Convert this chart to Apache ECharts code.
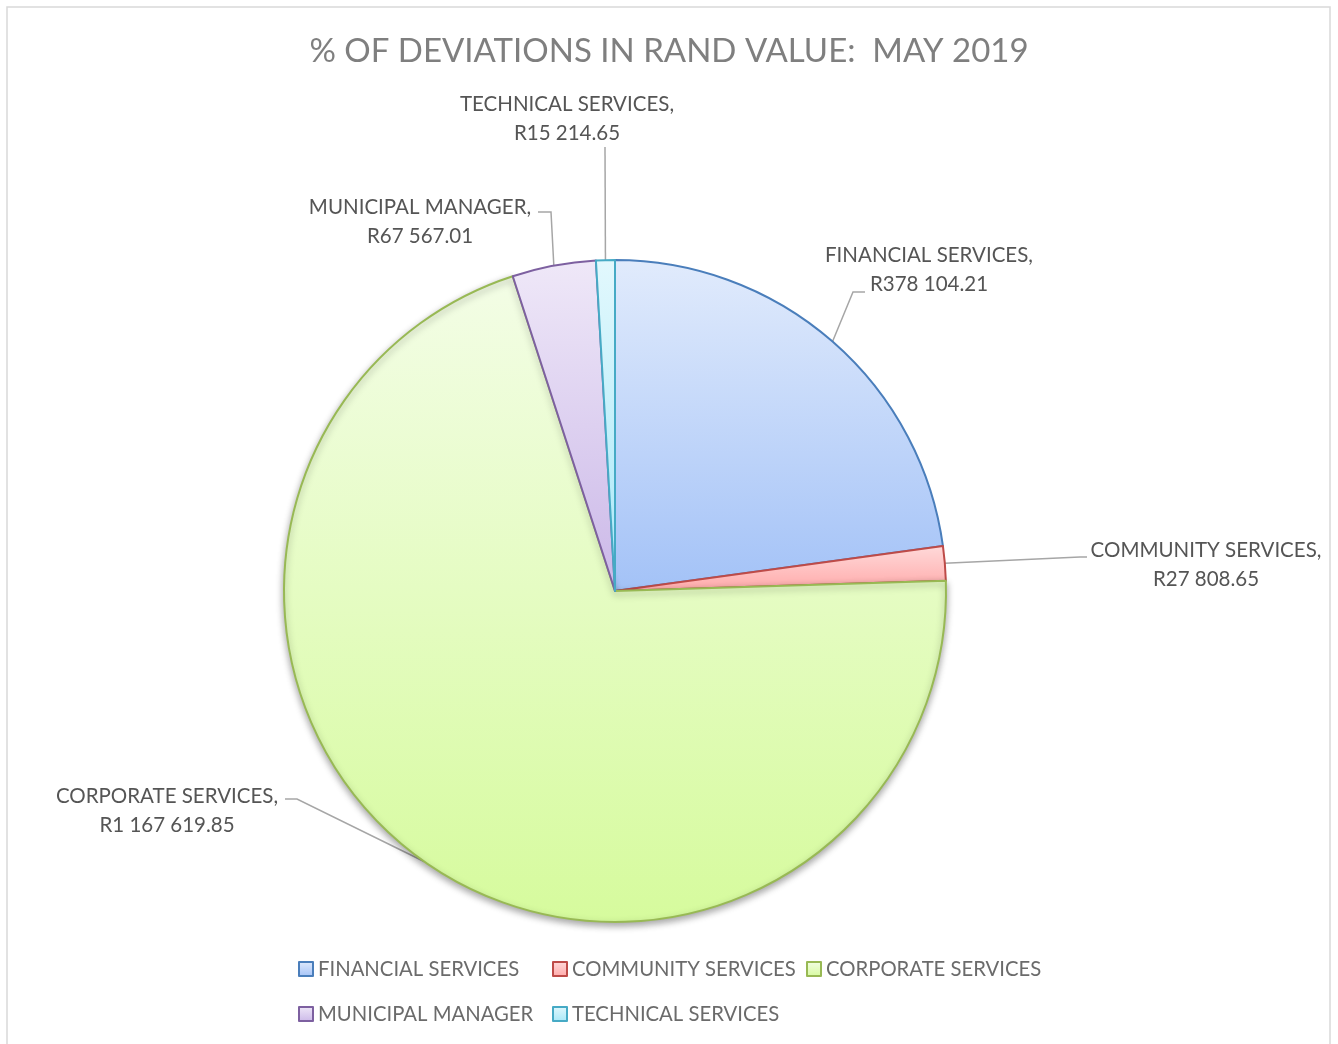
<!DOCTYPE html>
<html>
<head>
<meta charset="utf-8">
<title>% of deviations in Rand value: May 2019</title>
<script src="https://cdn.jsdelivr.net/npm/echarts@6/dist/echarts.min.js"></script>
<style>
  html, body { margin: 0; padding: 0; background: #ffffff; }
  #chart { width: 1338px; height: 1044px; }
</style>
</head>
<body>
<div id="chart"></div>
<script>
// Departments and the Rand value of their deviations
const departments = [
  'FINANCIAL SERVICES',
  'COMMUNITY SERVICES',
  'CORPORATE SERVICES',
  'MUNICIPAL MANAGER',
  'TECHNICAL SERVICES'
];
const randValues = [378104.21, 27808.65, 1167619.85, 67567.01, 15214.65];

// Slice styling: outline colour and top/bottom gradient stops
const edgeColors = ['#4a7ebb', '#be4b48', '#98b954', '#7d60a0', '#46aac5'];
const fillTop    = ['#e1ebfc', '#ffdada', '#f3fde6', '#efe8f8', '#e2f8fd'];
const fillBottom = ['#a3c2f7', '#ffa9a9', '#d6fb9d', '#cbb8e8', '#a8e8f8'];

// Where each data label sits, plus the bend/end of its leader line
const labelSpots = [
  { x: 929, y: 270, bend: [853, 292], end: [865, 292] },
  { x: 1206, y: 565, bend: [1080, 557], end: [1087, 557] },
  { x: 167, y: 811, bend: [297, 799], end: [285, 799] },
  { x: 420, y: 222, bend: [551, 212], end: [538, 212] },
  { x: 567, y: 119, bend: [605, 147], end: [605, 147] }
];

const FONT = 'Lato, "Open Sans", sans-serif';

function formatRand(v) {
  const parts = v.toFixed(2).split('.');
  const whole = parts[0].replace(/\B(?=(\d{3})+(?!\d))/g, ' ');
  return 'R' + whole + '.' + parts[1];
}

const pieData = departments.map((name, i) => {
  const item = {
    name: name,
    value: randValues[i],
    itemStyle: {
      color: new echarts.graphic.LinearGradient(0, 0, 0, 1, [
        { offset: 0, color: fillTop[i] },
        { offset: 1, color: fillBottom[i] }
      ]),
      borderColor: edgeColors[i],
      borderWidth: 2
    }
  };
  if (name === 'CORPORATE SERVICES') {
    item.itemStyle.shadowColor = 'rgba(0,0,0,0.35)';
    item.itemStyle.shadowBlur = 7;
    item.itemStyle.shadowOffsetY = 3;
  }
  return item;
});

const legendCommon = {
  orient: 'horizontal',
  left: 293,
  itemWidth: 14,
  itemHeight: 14,
  itemGap: 1,
  icon: 'rect',
  textStyle: {
    fontFamily: FONT,
    fontSize: 20.3,
    color: '#6b6b6b',
    width: 233,
    lineHeight: 24
  }
};

const chart = echarts.init(document.getElementById('chart'), null, { renderer: 'canvas' });

chart.setOption({
  backgroundColor: '#ffffff',
  animation: false,
  title: {
    text: '% OF DEVIATIONS IN RAND VALUE:  MAY 2019',
    left: 'center',
    top: 26,
    textStyle: {
      fontFamily: FONT,
      fontSize: 33,
      fontWeight: 'normal',
      color: '#7f7f7f',
      lineHeight: 40
    }
  },
  graphic: [{
    type: 'rect',
    shape: { x: 7, y: 7, width: 1323, height: 1045 },
    style: { fill: null, stroke: '#d9d9d9', lineWidth: 1.5 },
    silent: true,
    z: -1
  }],
  legend: [
    Object.assign({}, legendCommon, { top: 952, data: departments.slice(0, 3) }),
    Object.assign({}, legendCommon, { top: 997, data: departments.slice(3) })
  ],
  series: [{
    type: 'pie',
    center: [615, 591],
    radius: 331,
    startAngle: 90,
    clockwise: true,
    avoidLabelOverlap: false,
    data: pieData,
    label: {
      show: true,
      position: 'outside',
      fontFamily: FONT,
      fontSize: 20.5,
      color: '#555555',
      lineHeight: 29,
      align: 'center',
      formatter: p => p.name + ',\n' + formatRand(p.value)
    },
    labelLine: {
      show: true,
      length: 10,
      length2: 10,
      lineStyle: { color: '#a6a6a6', width: 1.5 }
    },
    labelLayout: function (params) {
      const spot = labelSpots[params.dataIndex];
      const out = {
        x: spot.x,
        y: spot.y,
        align: 'center',
        verticalAlign: 'middle'
      };
      if (params.labelLinePoints && params.labelLinePoints.length) {
        out.labelLinePoints = [params.labelLinePoints[0], spot.bend, spot.end];
      }
      return out;
    },
    emphasis: { disabled: true }
  }]
});
</script>
</body>
</html>
